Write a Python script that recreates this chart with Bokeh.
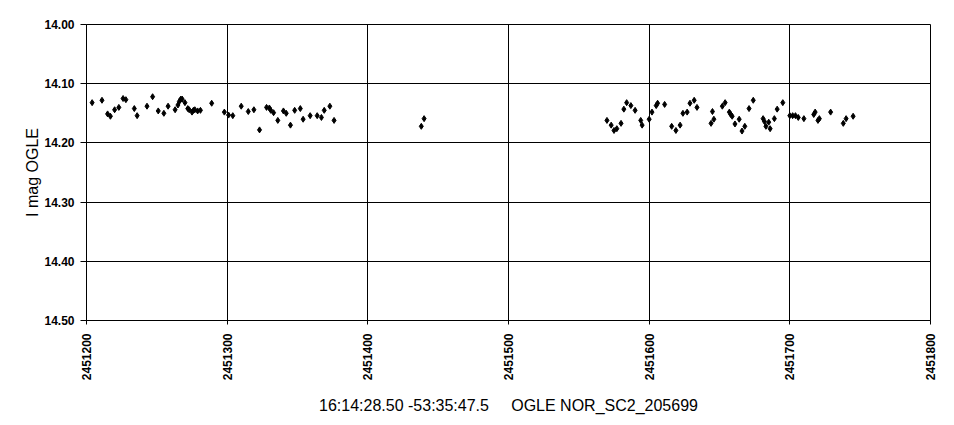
import math
from bokeh.plotting import figure
from bokeh.models import ColumnDataSource, Range1d, FixedTicker, NumeralTickFormatter
from bokeh.embed import file_html
from bokeh.resources import INLINE

# Julian date offsets from 2451200 and I magnitudes
jd_offset = [4, 11, 15, 17, 20, 23, 26, 28, 34, 36, 43, 47, 51, 55, 58, 63, 65, 66, 67, 68,
             70, 72, 73, 75, 76, 77, 79, 81, 89, 98, 101, 104, 110, 115, 119, 123, 128, 130,
             131, 133, 136, 140, 142, 145, 148, 152, 154, 159, 164, 167, 169, 173, 176,
             238, 240,
             370, 373, 375, 377, 380, 382, 384, 387, 390, 394, 395, 400, 402, 405, 406, 411,
             416, 419, 422, 424, 427, 429, 432, 434, 444, 446, 445, 452, 454, 457, 458, 459,
             461, 464, 466, 468, 471, 474, 481, 482, 483, 485, 486, 489, 491, 495, 500, 502,
             504, 506, 510, 517, 518, 520, 521, 529, 538, 540, 545]
imag = [14.132, 14.128, 14.151, 14.155, 14.144, 14.140, 14.125, 14.127, 14.142, 14.154,
        14.138, 14.122, 14.146, 14.150, 14.138, 14.144, 14.136, 14.130, 14.126, 14.126,
        14.132, 14.142, 14.144, 14.148, 14.145, 14.144, 14.146, 14.145, 14.133, 14.148,
        14.153, 14.154, 14.138, 14.147, 14.144, 14.178, 14.140, 14.141, 14.145, 14.149,
        14.162, 14.146, 14.150, 14.170, 14.145, 14.142, 14.160, 14.154, 14.154, 14.157,
        14.145, 14.138, 14.162,
        14.172, 14.159,
        14.162, 14.170, 14.179, 14.176, 14.167, 14.143, 14.132, 14.137, 14.145, 14.162,
        14.170, 14.160, 14.148, 14.137, 14.133, 14.135, 14.172, 14.179, 14.170, 14.150,
        14.148, 14.133, 14.128, 14.140, 14.167, 14.160, 14.147, 14.138, 14.132, 14.148,
        14.152, 14.155, 14.168, 14.160, 14.180, 14.172, 14.142, 14.128, 14.159, 14.164,
        14.172, 14.165, 14.176, 14.159, 14.143, 14.132, 14.154, 14.154, 14.154, 14.157,
        14.159, 14.152, 14.148, 14.162, 14.159, 14.148, 14.167, 14.159, 14.155]
jd_base = 2451200
jd = [jd_base + d for d in jd_offset]

x_ticks = [2451200, 2451300, 2451400, 2451500, 2451600, 2451700, 2451800]
y_ticks = [14.0, 14.1, 14.2, 14.3, 14.4, 14.5]

src = ColumnDataSource(data=dict(jd=jd, imag=imag))

p = figure(width=946, height=417, output_backend="svg", toolbar_location=None,
           x_range=Range1d(2451200, 2451800), y_range=Range1d(14.5, 14.0),
           min_border_left=86, min_border_right=16, min_border_top=24, min_border_bottom=96)
p.background_fill_color = "white"
p.border_fill_color = "white"
p.outline_line_color = "black"
p.outline_line_width = 1

p.scatter("jd", "imag", source=src, marker="diamond", size=6, color="black")

for ax in (p.xaxis, p.yaxis):
    ax.axis_line_color = "black"
    ax.major_tick_line_color = "black"
    ax.minor_tick_line_color = None
    ax.major_tick_in = 0
    ax.major_label_text_font = "Liberation Sans"
    ax.major_label_text_font_style = "bold"
    ax.major_label_text_font_size = "12px"
    ax.major_label_text_color = "black"
    ax.axis_label_text_font = "Liberation Sans"
    ax.axis_label_text_font_style = "normal"
    ax.axis_label_text_font_size = "16px"
    ax.axis_label_text_color = "black"

p.xaxis.ticker = FixedTicker(ticks=x_ticks)
p.yaxis.ticker = FixedTicker(ticks=y_ticks)
p.xaxis.formatter = NumeralTickFormatter(format="0")
p.yaxis.formatter = NumeralTickFormatter(format="0.00")
p.xaxis.major_label_orientation = math.pi / 2
p.xaxis.major_tick_out = 4
p.yaxis.major_tick_out = 6
p.xaxis.major_label_standoff = 9
p.yaxis.major_label_standoff = 6
p.yaxis.axis_label = "I mag OGLE"
p.yaxis.axis_label_standoff = 0
p.xaxis.axis_label = "16:14:28.50 -53:35:47.5\u00a0\u00a0\u00a0\u00a0\u00a0OGLE NOR_SC2_205699"
p.xaxis.axis_label_standoff = 14

p.xgrid.ticker = FixedTicker(ticks=x_ticks)
p.ygrid.ticker = FixedTicker(ticks=y_ticks)
p.grid.grid_line_color = "black"
p.grid.grid_line_alpha = 1
p.grid.grid_line_width = 1

open("out.html", "w").write(file_html(p, INLINE))
